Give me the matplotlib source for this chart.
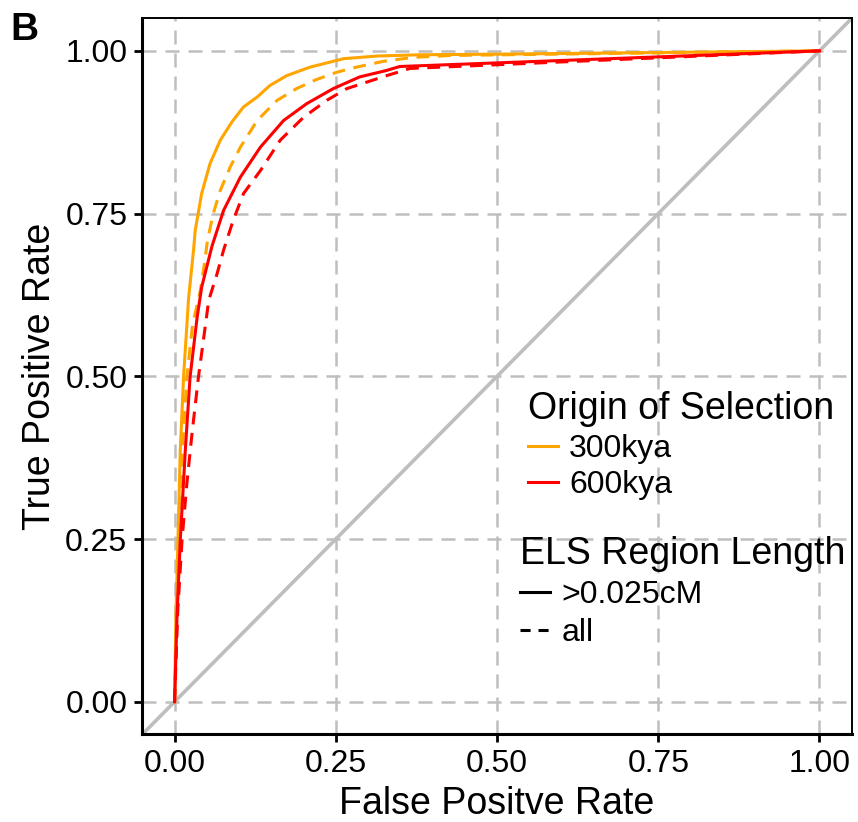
import matplotlib.pyplot as plt
from matplotlib.lines import Line2D

plt.rcParams['font.family'] = ['Liberation Sans', 'DejaVu Sans']

# ROC curves
fpr_300_long = [0, 0.002, 0.0052, 0.0088, 0.0139, 0.0217, 0.0294, 0.032, 0.042, 0.055, 0.071,
                0.089, 0.107, 0.128, 0.148, 0.174, 0.210, 0.262, 0.313, 0.380, 0.504, 1.0]
tpr_300_long = [0, 0.13, 0.248, 0.386, 0.499, 0.62, 0.694, 0.724, 0.781, 0.827, 0.863,
                0.891, 0.914, 0.929, 0.947, 0.962, 0.975, 0.988, 0.992, 0.994, 0.995, 1.0]

fpr_300_all = [0, 0.003, 0.007, 0.012, 0.019, 0.028, 0.040, 0.047, 0.051, 0.060, 0.071, 0.086,
               0.102, 0.128, 0.159, 0.189, 0.220, 0.251, 0.282, 0.324, 0.370, 0.430, 1.0]
tpr_300_all = [0, 0.13, 0.25, 0.386, 0.499, 0.58, 0.632, 0.678, 0.709, 0.75, 0.786, 0.821,
               0.852, 0.893, 0.924, 0.942, 0.956, 0.967, 0.975, 0.984, 0.990, 0.993, 1.0]

fpr_600_long = [0, 0.0037, 0.0088, 0.0166, 0.024, 0.035, 0.042, 0.058, 0.076, 0.102, 0.133,
                0.169, 0.205, 0.246, 0.287, 0.329, 0.349, 1.0]
tpr_600_long = [0, 0.13, 0.248, 0.386, 0.499, 0.591, 0.637, 0.700, 0.755, 0.806, 0.852,
                0.893, 0.919, 0.942, 0.960, 0.970, 0.976, 1.0]

fpr_600_all = [0, 0.005, 0.0115, 0.019, 0.027, 0.037, 0.053, 0.066, 0.076, 0.091, 0.107,
               0.133, 0.164, 0.200, 0.236, 0.267, 0.298, 0.329, 0.365, 1.0]
tpr_600_all = [0, 0.141, 0.248, 0.335, 0.412, 0.499, 0.617, 0.658, 0.694, 0.740, 0.781,
               0.816, 0.863, 0.898, 0.924, 0.942, 0.952, 0.962, 0.973, 1.0]

ticks = [0.0, 0.25, 0.5, 0.75, 1.0]
tick_labels = ["0.00", "0.25", "0.50", "0.75", "1.00"]
origins = ["300kya", "600kya"]
lengths = [">0.025cM", "all"]
colors = {"300kya": "#FFA500", "600kya": "#FF0000"}

fig = plt.figure(figsize=(8.58, 8.22), dpi=100)
ax = fig.add_axes([0.1659, 0.1067, 0.8268, 0.8710])

ax.set_xlim(-0.05, 1.05)
ax.set_ylim(-0.05, 1.05)
ax.set_xticks(ticks)
ax.set_xticklabels(tick_labels)
ax.set_yticks(ticks)
ax.set_yticklabels(tick_labels)
ax.grid(True, color="#BEBEBE", linestyle=(0, (5.6, 3.6)), linewidth=1.8)
ax.set_axisbelow(True)

ax.plot([-0.05, 1.05], [-0.05, 1.05], color="#BEBEBE", linewidth=2.6, zorder=2)

lw = 2.2
dash = (0, (4.2, 2.8))
ax.plot(fpr_300_long, tpr_300_long, color=colors["300kya"], linewidth=lw, zorder=3)
ax.plot(fpr_300_all, tpr_300_all, color=colors["300kya"], linewidth=lw, linestyle=dash, zorder=3)
ax.plot(fpr_600_all, tpr_600_all, color=colors["600kya"], linewidth=lw, linestyle=dash, zorder=4)
ax.plot(fpr_600_long, tpr_600_long, color=colors["600kya"], linewidth=lw, zorder=4)

for side in ["left", "bottom"]:
    ax.spines[side].set_linewidth(2.2)
for side in ["top", "right"]:
    ax.spines[side].set_linewidth(1.4)

ax.tick_params(axis="both", length=5.8, width=2, labelsize=23, pad=5, color="black")
ax.set_xlabel("False Positve Rate", fontsize=27, labelpad=5)
ax.set_ylabel("True Positive Rate", fontsize=27, labelpad=5)

# legends
h1 = [Line2D([], [], color=colors[o], linewidth=lw) for o in origins]
leg1 = ax.legend(h1, origins, title="Origin of Selection", loc="upper left",
                 bbox_to_anchor=(0.543, 0.479), frameon=False, fontsize=23,
                 title_fontsize=27, alignment="left", handlelength=0.95,
                 handletextpad=0.35, labelspacing=0.2, borderpad=0, borderaxespad=0)
ax.add_artist(leg1)
h2 = [Line2D([], [], color="black", linewidth=lw),
      Line2D([], [], color="black", linewidth=lw, linestyle=(0, (3.3, 2.6)))]
ax.legend(h2, lengths, title="ELS Region Length", loc="upper left",
          bbox_to_anchor=(0.532, 0.277), frameon=False, fontsize=23,
          title_fontsize=27, alignment="left", handlelength=0.95,
          handletextpad=0.35, labelspacing=0.25, borderpad=0, borderaxespad=0)

fig.text(0.012, 0.963, "B", fontsize=28, fontweight="bold", va="center", ha="left")

fig.savefig("out.png", dpi=100)
